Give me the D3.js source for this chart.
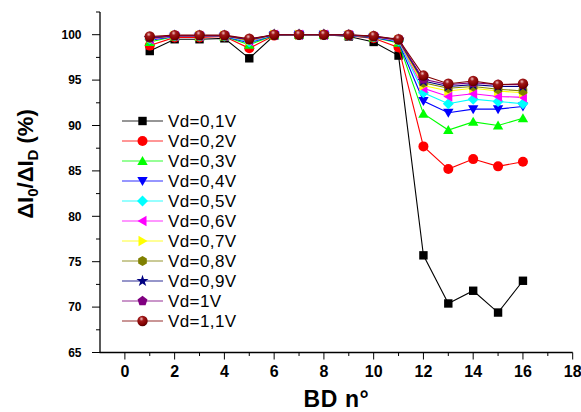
<!DOCTYPE html>
<html><head><meta charset="utf-8">
<script src="https://cdn.jsdelivr.net/npm/d3@7"></script>
<style>body{margin:0;background:#fff}svg{display:block}</style>
</head><body>
<svg id="c" width="581" height="412"></svg>
<script>
const bd = [1,2,3,4,5,6,7,8,9,10,11,12,13,14,15,16];
const seriesNames = ["Vd=0,1V","Vd=0,2V","Vd=0,3V","Vd=0,4V","Vd=0,5V","Vd=0,6V","Vd=0,7V","Vd=0,8V","Vd=0,9V","Vd=1V","Vd=1,1V"];
const v01 = [98.2,99.5,99.5,99.6,97.4,99.9,100,100,99.8,99.2,97.7,75.7,70.4,71.8,69.4,72.9];
const v02 = [98.8,99.7,99.7,99.8,98.5,99.9,100,100,99.9,99.6,98.6,87.7,85.2,86.3,85.5,86.0];
const v03 = [99.2,99.8,99.8,99.8,98.9,99.95,100,100,99.9,99.7,99.1,91.3,89.5,90.4,90.0,90.8];
const v04 = [99.4,99.8,99.8,99.8,99.1,99.95,100,100,99.9,99.7,99.2,92.7,91.4,91.8,91.8,92.1];
const v05 = [99.5,99.85,99.85,99.85,99.2,100,100,100,99.95,99.75,99.3,93.6,92.4,92.9,92.65,92.4];
const v06 = [99.5,99.85,99.85,99.85,99.3,100,100,100,99.95,99.75,99.35,94.1,93.2,93.5,93.2,93.1];
const v07 = [99.6,99.9,99.9,99.9,99.35,100,100,100,99.95,99.8,99.4,94.4,93.8,94.1,93.8,93.6];
const v08 = [99.6,99.9,99.9,99.9,99.4,100,100,100,99.95,99.8,99.4,94.7,94.1,94.3,94.0,93.8];
const v09 = [99.65,99.9,99.9,99.9,99.45,100,100,100,99.95,99.8,99.45,94.9,94.3,94.5,94.3,94.3];
const v10 = [99.7,99.9,99.9,99.9,99.5,100,100,100,99.95,99.85,99.45,95.1,94.5,94.7,94.5,94.5];
const v11 = [99.8,99.95,99.95,99.95,99.55,100,100,100,100,99.85,99.5,95.5,94.6,94.9,94.5,94.6];
const seriesValues = [v01,v02,v03,v04,v05,v06,v07,v08,v09,v10,v11];
const colors = ["#000000","#ff0000","#00ff00","#0000ff","#00ffff","#ff00ff","#ffff00","#808000","#000080","#800080","#800000"];
const shapes = ["square","circle","triUp","triDown","diamond","triLeft","triRight","hexagon","star","pentagon","sphere"];
const xTicks = [0,2,4,6,8,10,12,14,16,18];
const yTicks = [65,70,75,80,85,90,95,100];

const svg = d3.select("#c");
const x = d3.scaleLinear().domain([-1,18]).range([100,572.7]);
const y = d3.scaleLinear().domain([65,102.5]).range([352.5,12]);

const defs = svg.append("defs");
const g = defs.append("radialGradient").attr("id","sph").attr("cx","0.4").attr("cy","0.3").attr("r","0.7");
g.append("stop").attr("offset","0").attr("stop-color","#f0c0c0");
g.append("stop").attr("offset","0.3").attr("stop-color","#a01818");
g.append("stop").attr("offset","0.8").attr("stop-color","#800000");
g.append("stop").attr("offset","1").attr("stop-color","#500000");

function polyPath(n, r, rot){
  const p = [];
  for(let i=0;i<n;i++){const a = rot + i*2*Math.PI/n; p.push([r*Math.cos(a), r*Math.sin(a)]);}
  return "M"+p.map(q=>q[0].toFixed(2)+","+q[1].toFixed(2)).join("L")+"Z";
}
function drawMarker(sel, shape, color, cx, cy){
  const t = sel.append("g").attr("transform",`translate(${cx},${cy})`);
  switch(shape){
    case "square": t.append("rect").attr("x",-4.2).attr("y",-4.2).attr("width",8.4).attr("height",8.4).attr("fill",color); break;
    case "circle": t.append("circle").attr("r",5).attr("fill",color); break;
    case "triUp": t.append("path").attr("d",polyPath(3,6,-Math.PI/2)).attr("transform","translate(0,1)").attr("fill",color); break;
    case "triDown": t.append("path").attr("d",polyPath(3,6,Math.PI/2)).attr("transform","translate(0,-1)").attr("fill",color); break;
    case "diamond": t.append("path").attr("d",polyPath(4,5.5,0)).attr("fill",color); break;
    case "triLeft": t.append("path").attr("d",polyPath(3,6,Math.PI)).attr("transform","translate(1,0)").attr("fill",color); break;
    case "triRight": t.append("path").attr("d",polyPath(3,6,0)).attr("transform","translate(-1,0)").attr("fill",color); break;
    case "hexagon": t.append("path").attr("d",polyPath(6,5,Math.PI/6)).attr("fill",color); break;
    case "star": t.append("path").attr("d",d3.symbol(d3.symbolStar,45)()).attr("fill",color); break;
    case "pentagon": t.append("path").attr("d",polyPath(5,5.2,-Math.PI/2)).attr("fill",color); break;
    case "sphere": t.append("circle").attr("r",5.2).attr("fill","url(#sph)"); break;
  }
}

// axes
const xAxis = svg.append("g").attr("transform","translate(0,352.5)");
xAxis.append("line").attr("x1",99.5).attr("x2",x(18)).attr("y1",0).attr("y2",0).attr("stroke","#000").attr("stroke-width",1.3);
xTicks.forEach(t=>{
  xAxis.append("line").attr("x1",x(t)).attr("x2",x(t)).attr("y1",0).attr("y2",7).attr("stroke","#000").attr("stroke-width",1);
  xAxis.append("text").attr("x",x(t)).attr("y",24.5).attr("text-anchor","middle")
    .attr("font-family","Liberation Sans, Arial, sans-serif").attr("font-weight","bold").attr("font-size",16).text(t);
});
d3.range(1,18,2).forEach(t=>{
  xAxis.append("line").attr("x1",x(t)).attr("x2",x(t)).attr("y1",0).attr("y2",3.5).attr("stroke","#000").attr("stroke-width",1);
});
const yAxis = svg.append("g").attr("transform","translate(100,0)");
yAxis.append("line").attr("x1",0).attr("x2",0).attr("y1",y(102.5)).attr("y2",353).attr("stroke","#000").attr("stroke-width",1.3);
yTicks.forEach(t=>{
  yAxis.append("line").attr("x1",-8).attr("x2",0).attr("y1",y(t)).attr("y2",y(t)).attr("stroke","#000").attr("stroke-width",1);
  yAxis.append("text").attr("x",-18.5).attr("y",y(t)+4.3).attr("text-anchor","end")
    .attr("font-family","Liberation Sans, Arial, sans-serif").attr("font-weight","bold").attr("font-size",12).text(t);
});
d3.range(67.5,103,5).forEach(t=>{
  yAxis.append("line").attr("x1",-4).attr("x2",0).attr("y1",y(t)).attr("y2",y(t)).attr("stroke","#000").attr("stroke-width",1);
});

// axis titles
svg.append("text").attr("x",336.5).attr("y",407).attr("text-anchor","middle")
  .attr("font-family","Liberation Sans, Arial, sans-serif").attr("font-weight","bold").attr("font-size",23)
  .attr("letter-spacing",0.6).text("BD n°");
const yt = svg.append("text").attr("transform","translate(33,164) rotate(-90)").attr("text-anchor","middle")
  .attr("font-family","Liberation Sans, Arial, sans-serif").attr("font-weight","bold").attr("font-size",22);
yt.append("tspan").text("ΔI");
yt.append("tspan").attr("font-size",15).attr("dy",5).text("0");
yt.append("tspan").attr("dy",-5).text("/ΔI");
yt.append("tspan").attr("font-size",15).attr("dy",5).text("D");
yt.append("tspan").attr("dy",-5).text(" (%)");

// series
const line = d3.line().x((d,i)=>x(bd[i])).y(d=>y(d));
seriesValues.forEach((vals,si)=>{
  const gs = svg.append("g");
  gs.append("path").attr("d",line(vals)).attr("fill","none").attr("stroke",colors[si]).attr("stroke-width",1.1);
  vals.forEach((v,i)=>drawMarker(gs, shapes[si], colors[si], x(bd[i]), y(v)));
});

// legend
seriesNames.forEach((name,i)=>{
  const ly = 121 + 20*i;
  svg.append("line").attr("x1",122).attr("x2",163).attr("y1",ly).attr("y2",ly)
    .attr("stroke",colors[i]).attr("stroke-opacity",0.55).attr("stroke-width",1.5);
  drawMarker(svg, shapes[i], colors[i], 142.5, ly);
  svg.append("text").attr("x",168).attr("y",ly+6).attr("font-family","Liberation Sans, Arial, sans-serif")
    .attr("font-size",17).attr("letter-spacing",0.4).text(name);
});
</script>
</body></html>
